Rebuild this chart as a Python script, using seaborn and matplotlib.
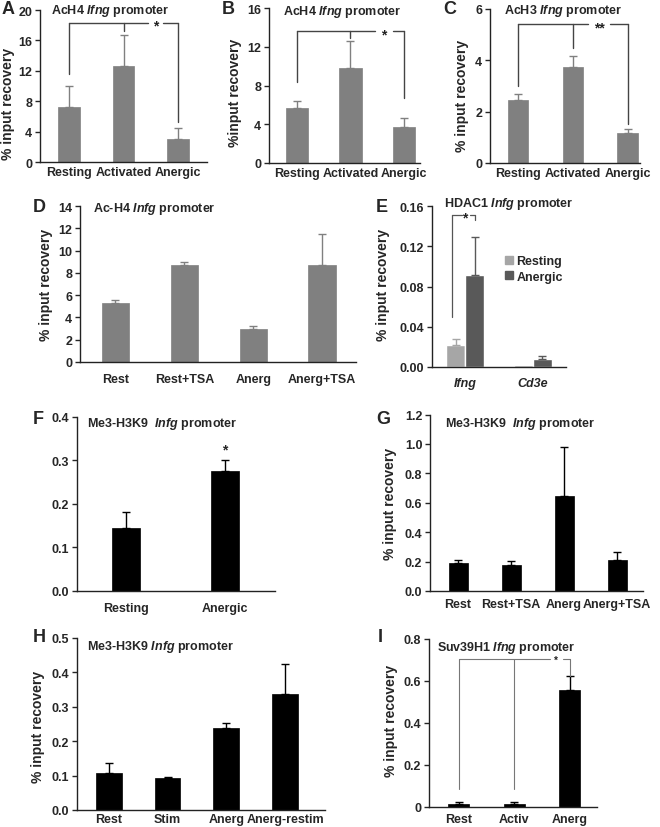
import numpy as np
import pandas as pd
import matplotlib
matplotlib.use("Agg")
import matplotlib.pyplot as plt
import seaborn as sns
from matplotlib.patches import Patch

# ---- data ----
abc_groups = ["Resting", "Activated", "Anergic"]
a_vals = [7.3, 12.6, 3.0]
a_errs = [2.7, 4.1, 1.5]
b_vals = [5.7, 9.85, 3.68]
b_errs = [0.7, 2.75, 0.95]
c_vals = [2.44, 3.73, 1.17]
c_errs = [0.25, 0.43, 0.16]

tsa_groups = ["Rest", "Rest+TSA", "Anerg", "Anerg+TSA"]
d_vals = [5.3, 8.67, 2.92, 8.67]
d_errs = [0.3, 0.33, 0.27, 2.83]

e_genes = ["Ifng", "Cd3e"]
e_states = ["Resting", "Anergic"]
e_resting = [0.0214, 0.0016]
e_resting_err = [0.0066, 0.0]
e_anergic = [0.0914, 0.0076]
e_anergic_err = [0.0373, 0.0033]

f_groups = ["Resting", "Anergic"]
f_vals = [0.145, 0.2755]
f_errs = [0.036, 0.025]

g_vals = [0.187, 0.18, 0.648, 0.208]
g_errs = [0.025, 0.027, 0.334, 0.056]

h_groups = ["Rest", "Stim", "Anerg", "Anerg-restim"]
h_vals = [0.1076, 0.093, 0.2384, 0.3362]
h_errs = [0.028, 0.004, 0.0136, 0.087]

i_groups = ["Rest", "Activ", "Anerg"]
i_vals = [0.0127, 0.0127, 0.558]
i_errs = [0.012, 0.012, 0.065]

GRAY = "#808080"
BLACK = "#000000"

sns.set_style("ticks")
plt.rcParams["font.family"] = ["Liberation Sans", "DejaVu Sans"]
plt.rcParams["font.weight"] = "bold"
plt.rcParams["mathtext.fontset"] = "custom"
plt.rcParams["mathtext.it"] = "Liberation Sans:italic:bold"
plt.rcParams["mathtext.rm"] = "Liberation Sans:bold"
plt.rcParams["mathtext.bf"] = "Liberation Sans:bold"

W, H = 660, 828
fig = plt.figure(figsize=(W / 100, H / 100), dpi=100)


def make_ax(x0, x1, ytop, ybot):
    return fig.add_axes([x0 / W, 1 - ybot / H, (x1 - x0) / W, (ybot - ytop) / H])


def ftext(x, y, s, **kw):
    fig.text(x / W, 1 - y / H, s, **kw)


def letter(x, y, s):
    ftext(x, y, s, fontsize=13, fontweight="bold", va="center")


def title(x, y, s):
    ftext(x, y, s, fontsize=9, fontweight="bold", va="center")


def style(ax, ylim, ticks, fmt, xlim, ylabel, lab_xy, xpad, tick_fs=8.5):
    ax.set_ylim(*ylim)
    ax.set_xlim(*xlim)
    ax.set_yticks(ticks)
    ax.set_yticklabels([fmt(t) for t in ticks])
    for s in ["top", "right"]:
        ax.spines[s].set_visible(False)
    for s in ["left", "bottom"]:
        ax.spines[s].set_color("#222222")
        ax.spines[s].set_linewidth(1.0)
    ax.tick_params(axis="y", length=3.5, width=1, pad=2, labelsize=9)
    ax.tick_params(axis="x", length=0, pad=xpad, labelsize=tick_fs)
    for lab in ax.get_xticklabels() + ax.get_yticklabels():
        lab.set_fontweight("bold")
    ax.set_xlabel("")
    ax.set_ylabel(ylabel, fontsize=10, fontweight="bold")
    ax.yaxis.set_label_coords(*lab_xy)


def bars(ax, cats, vals, errs, color, width):
    sns.barplot(x=cats, y=vals, color=color, width=width, ax=ax,
                edgecolor=color, linewidth=0.5, saturation=1)
    ax.errorbar(range(len(vals)), vals, yerr=[np.zeros(len(vals)), errs],
                fmt="none", ecolor=color, elinewidth=1, capsize=3, capthick=1)


def bracket(ax, xs, drops, top, gap, star, star_x, star_y, color="#444444", lw=1.0, fs=10):
    ax.plot([xs[0], gap[0]], [top, top], color=color, lw=lw)
    ax.plot([gap[1], xs[-1]], [top, top], color=color, lw=lw)
    for x, d in zip(xs, drops):
        ax.plot([x, x], [top, d], color=color, lw=lw)
    ax.text(star_x, star_y, star, ha="center", va="center", fontsize=fs,
            fontweight="bold", color="#222222")


int_fmt = lambda t: f"{t:g}"

# ---- A ----
ax = make_ax(40, 207, 11, 163)
bars(ax, abc_groups, a_vals, a_errs, GRAY, 0.4)
style(ax, (0, 20), [0, 4, 8, 12, 16, 20], int_fmt, (-0.53, 2.53),
      "% input recovery", (-0.15, 0.39), 3, tick_fs=9)
bracket(ax, [0, 1, 2], [11.6, 17.3, 5.3], 18.3, (1.455, 1.73), "*", 1.59, 17.9)
letter(2, 9, "A")
title(51, 11, r"AcH4 $Ifng$ promoter")

# ---- B ----
ax = make_ax(269, 420, 9, 164)
bars(ax, abc_groups, b_vals, b_errs, GRAY, 0.42)
style(ax, (0, 16), [0, 4, 8, 12, 16], int_fmt, (-0.52, 2.3),
      "%input recovery", (-0.18, 0.46), 3, tick_fs=9)
bracket(ax, [0, 1, 2], [8.4, 12.87, 6.68], 13.66, (1.46, 1.8), "*", 1.63, 13.3)
letter(222, 9, "B")
title(283, 12, r"AcH4 $Ifng$ promoter")

# ---- C ----
ax = make_ax(490, 640, 10, 164)
bars(ax, abc_groups, c_vals, c_errs, GRAY, 0.38)
style(ax, (0, 6), [0, 2, 4, 6], int_fmt, (-0.51, 2.22),
      "% input recovery", (-0.14, 0.44), 3, tick_fs=9)
bracket(ax, [0, 1, 2], [2.99, 4.5, 1.53], 5.41, (1.28, 1.68), "**", 1.48, 5.27)
letter(443, 9, "C")
title(504, 11, r"AcH3 $Ifng$ promoter")

# ---- D ----
ax = make_ax(80, 356, 207, 363)
bars(ax, tsa_groups, d_vals, d_errs, GRAY, 0.4)
style(ax, (0, 14), [0, 2, 4, 6, 8, 10, 12, 14], int_fmt, (-0.515, 3.49),
      "% input recovery", (-0.098, 0.5), 8, tick_fs=9)
letter(33, 207, "D")
title(93, 209, r"Ac-H4 $Infg$ promoter")

# ---- E ----
ax = make_ax(432, 566, 207, 368)
e_df = pd.DataFrame({
    "gene": e_genes * 2,
    "state": [e_states[0]] * 2 + [e_states[1]] * 2,
    "value": e_resting + e_anergic,
    "err": e_resting_err + e_anergic_err,
})
e_colors = {"Resting": "#a6a6a6", "Anergic": "#595959"}
sns.barplot(data=e_df, x="gene", y="value", hue="state", palette=e_colors,
            width=0.56, saturation=1, legend=False, ax=ax)
for p, (_, row) in zip(ax.patches, e_df.iterrows()):
    if row["err"] > 0:
        xc = p.get_x() + p.get_width() / 2
        ax.errorbar([xc], [row["value"]], yerr=[[0], [row["err"]]], fmt="none",
                    ecolor=e_colors[row["state"]], elinewidth=1, capsize=3, capthick=1)
style(ax, (0, 0.16), [0, 0.04, 0.08, 0.12, 0.16], lambda t: f"{t:.2f}",
      (-0.49, 1.49), "% input recovery", (-0.31, 0.515), 7, tick_fs=9)
for lab in ax.get_xticklabels():
    lab.set_fontstyle("italic")
bracket(ax, [-0.19, 0.14], [0.0495, 0.146], 0.151, (-0.05, 0.07), "*", 0.0, 0.1485,
        color="#555555", lw=0.9)
ax.legend(handles=[Patch(color=e_colors[s], label=s) for s in e_states],
          loc="upper left", bbox_to_anchor=((500 - 432) / 134, (368 - 251) / 161),
          frameon=False, handlelength=0.6, handleheight=0.6, handletextpad=0.3,
          labelspacing=0.3, borderaxespad=0, prop={"weight": "bold", "size": 9})
letter(376, 207, "E")
title(444, 204, r"HDAC1 $Infg$ promoter")

# ---- F ----
ax = make_ax(77, 275, 417.5, 592)
bars(ax, f_groups, f_vals, f_errs, BLACK, 0.28)
style(ax, (0, 0.4), [0, 0.1, 0.2, 0.3, 0.4], lambda t: f"{t:.1f}",
      (-0.495, 1.505), "", (-0.2, 0.5), 8, tick_fs=9)
ax.text(1, 0.324, "*", ha="center", va="center", fontsize=10, fontweight="bold")
letter(33, 420, "F")
title(87, 424, r"Me3-H3K9  $Infg$ promoter")

# ---- G ----
ax = make_ax(430, 643, 415.5, 592)
bars(ax, tsa_groups, g_vals, g_errs, BLACK, 0.36)
style(ax, (0, 1.2), [0, 0.2, 0.4, 0.6, 0.8, 1.0, 1.2], lambda t: f"{t:.1f}",
      (-0.53, 3.49), "% input recovery", (-0.155, 0.5), 5, tick_fs=9)
letter(376, 420, "G")
title(445, 424, r"Me3-H3K9  $Infg$ promoter")

# ---- H ----
ax = make_ax(77, 325, 639, 811)
bars(ax, h_groups, h_vals, h_errs, BLACK, 0.44)
style(ax, (0, 0.5), [0, 0.1, 0.2, 0.3, 0.4, 0.5], lambda t: f"{t:.1f}",
      (-0.54, 3.68), "% input recovery", (-0.129, 0.49), 2, tick_fs=9)
letter(33, 638, "H")
title(87, 647, r"Me3-H3K9 $Infg$ promoter")

# ---- I ----
ax = make_ax(429, 597, 640, 808)
bars(ax, i_groups, i_vals, i_errs, BLACK, 0.38)
style(ax, (0, 0.8), [0, 0.2, 0.4, 0.6, 0.8], lambda t: "0" if t == 0 else f"{t:.1f}",
      (-0.54, 2.49), "% input recovery", (-0.185, 0.52), 4, tick_fs=9)
bracket(ax, [0, 1, 2], [0.087, 0.087, 0.626], 0.705, (1.64, 1.88), "*", 1.75, 0.70,
        color="#777777", lw=0.8, fs=7)
letter(378, 638, "I")
title(437, 648, r"Suv39H1 $Ifng$ promoter")

fig.savefig("out.png", dpi=100)
